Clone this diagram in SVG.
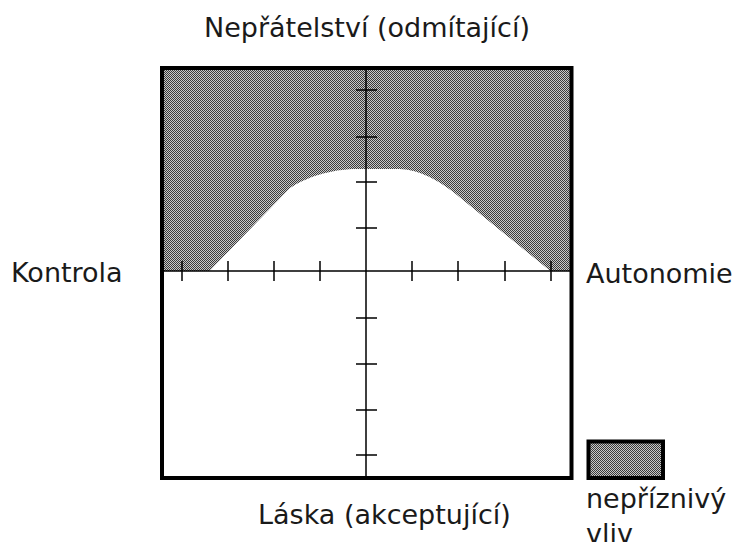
<svg xmlns="http://www.w3.org/2000/svg" width="736" height="542" viewBox="0 0 736 542">
<defs>
<pattern id="dither" width="2" height="2" patternUnits="userSpaceOnUse">
<rect width="2" height="2" fill="#c8c8c8"/>
<rect x="0" y="0" width="1" height="1" fill="#3a3a3a"/>
<rect x="1" y="1" width="1" height="1" fill="#3a3a3a"/>
</pattern>
<style>
text{font-family:"DejaVu Sans",sans-serif;font-size:27px;fill:#1a1a1a}
.ax{stroke:#000;stroke-width:1.5;fill:none}
.frame{stroke:#000;stroke-width:4;fill:none}
</style>
</defs>
<rect width="736" height="542" fill="#fff"/>
<g id="chart">
<rect x="162" y="68" width="409.5" height="203" fill="url(#dither)"/>
<path d="M 209 271.5 L 290 188 C 305 178, 330 169, 357 169 L 400 169 C 420 170, 437 180, 452 191 L 551 271.5 Z" fill="#fff"/>
</g>
<g id="axes">
<path class="ax" d="M 164 271 H 570 M 366 70 V 476"/>
<path class="ax" d="M 182 261 V 281 M 228 261 V 281 M 274 261 V 281 M 320 261 V 281 M 412 261 V 281 M 458 261 V 281 M 505 261 V 281 M 551 261 V 281"/>
<path class="ax" d="M 356 90 H 377 M 356 137 H 377 M 356 182 H 377 M 356 228 H 377 M 356 318 H 377 M 356 364 H 377 M 356 410 H 377 M 356 455 H 377"/>
<rect class="frame" x="162" y="68" width="409.5" height="410"/>
</g>
<g id="labels">
<text x="367" y="37" text-anchor="middle">Nepřátelství (odmítající)</text>
<text x="11" y="282">Kontrola</text>
<text x="586" y="283">Autonomie</text>
<text x="258" y="524">Láska (akceptující)</text>
</g>
<g id="legend">
<rect x="588.5" y="441.5" width="74.5" height="36.5" fill="url(#dither)" stroke="#000" stroke-width="4"/>
<text x="586" y="508">nepříznivý</text>
<text x="586" y="543">vliv</text>
</g>
</svg>
